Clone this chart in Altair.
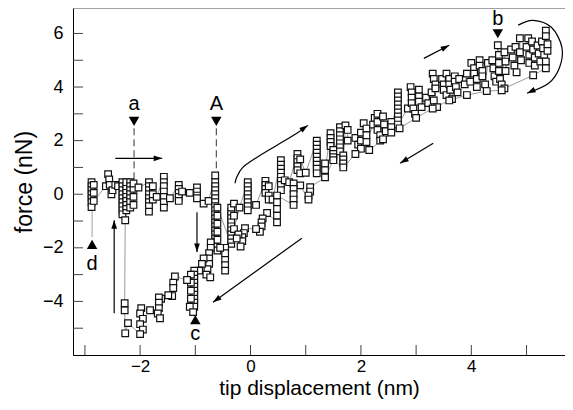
import math
import altair as alt
import pandas as pd

# ---------------- data ----------------
approach = [
    (-2.88, 0.45), (-2.88, 0.3), (-2.88, 0.15), (-2.88, 0.0), (-2.88, -0.15), (-2.88, -0.3), (-2.88, -0.48),
    (-2.84, 0.35), (-2.84, 0.05), (-2.84, -0.25),
    (-2.62, 0.3), (-2.58, 0.75), (-2.56, 0.55), (-2.55, 0.35), (-2.52, 0.0), (-2.5, 0.15), (-2.45, 0.35), (-2.4, 0.3),
    (-2.32, 0.45), (-2.32, 0.3), (-2.32, 0.15), (-2.32, 0.0), (-2.32, -0.15), (-2.32, -0.3), (-2.32, -0.45), (-2.32, -0.6), (-2.32, -0.75),
    (-2.25, -0.6), (-2.25, -0.45), (-2.25, -0.3), (-2.25, -0.15), (-2.25, 0.0), (-2.25, 0.15), (-2.25, 0.3), (-2.25, 0.45),
    (-2.18, 0.45), (-2.18, 0.3), (-2.18, 0.15), (-2.18, 0.0), (-2.18, -0.15), (-2.18, -0.3), (-2.18, -0.5),
    (-2.12, -0.4), (-2.12, -0.1), (-2.12, 0.2), (-2.12, 0.4),
    (-2.03, 0.25),
    (-1.84, 0.45), (-1.84, 0.3), (-1.84, 0.15), (-1.84, 0.0), (-1.84, -0.15), (-1.84, -0.3), (-1.84, -0.45), (-1.84, -0.65),
    (-1.77, -0.2), (-1.77, 0.0), (-1.77, 0.3),
    (-1.7, -0.1),
    (-1.57, 0.65), (-1.57, 0.45), (-1.57, 0.3), (-1.57, 0.1), (-1.57, -0.1), (-1.57, -0.3), (-1.57, -0.5),
    (-1.46, -0.15),
    (-1.3, 0.35), (-1.3, 0.2), (-1.3, 0.05), (-1.3, -0.1), (-1.3, -0.25), (-1.24, 0.1),
    (-1.1, 0.05),
    (-0.97, 0.25), (-0.97, 0.1), (-0.97, -0.05), (-0.97, -0.15),
    (-0.85, -0.35), (-0.76, -0.25),
    (-0.64, 0.7), (-0.64, 0.45), (-0.64, 0.3), (-0.64, 0.15), (-0.64, 0.0), (-0.64, -0.15), (-0.64, -0.3),
    (-0.64, -0.45), (-0.64, -0.6), (-0.64, -0.75), (-0.64, -0.9), (-0.64, -1.05), (-0.64, -1.2), (-0.64, -1.35),
    (-0.64, -1.5), (-0.64, -1.65), (-0.64, -1.8), (-0.64, -1.95),
    (-0.6, -2.1), (-0.6, -1.7), (-0.6, -1.4), (-0.6, -1.1), (-0.6, -0.8), (-0.6, -0.5),
]

loading = [
    (-0.35, -1.85), (-0.35, -1.7), (-0.35, -1.55), (-0.35, -1.4), (-0.35, -1.25), (-0.35, -1.1), (-0.35, -0.95),
    (-0.35, -0.8), (-0.35, -0.65), (-0.35, -0.5), (-0.3, -0.35), (-0.3, -0.8), (-0.3, -1.3),
    (-0.2, -0.5),
    (-0.05, 0.45), (-0.05, 0.3), (-0.05, 0.15), (-0.05, 0.0), (-0.05, -0.15), (-0.05, -0.3), (-0.05, -0.45), (-0.05, -0.6),
    (0.1, -0.4),
    (0.27, 0.5), (0.27, 0.35), (0.27, 0.2), (0.27, 0.05), (0.33, 0.3), (0.33, -0.05), (0.33, -0.2),
    (0.4, -0.2),
    (0.55, 1.27), (0.55, 1.1), (0.55, 0.95), (0.55, 0.8), (0.55, 0.65), (0.55, 0.5), (0.55, 0.35), (0.55, 0.15),
    (0.62, 0.52), (0.7, 0.45),
    (0.85, 1.5), (0.85, 1.35), (0.85, 1.2), (0.85, 1.05), (0.85, 0.9), (0.9, 0.78), (0.9, 1.3),
    (1.0, 0.8),
    (1.2, 2.0), (1.2, 1.85), (1.2, 1.7), (1.2, 1.55), (1.2, 1.4), (1.2, 1.25), (1.2, 1.1), (1.2, 0.95), (1.2, 0.78),
    (1.35, 1.15), (1.35, 0.9),
    (1.45, 2.28), (1.45, 2.1), (1.45, 1.95), (1.45, 1.8), (1.5, 1.65), (1.5, 1.5), (1.5, 1.38),
    (1.62, 2.5), (1.62, 2.35), (1.62, 2.2), (1.62, 2.05), (1.62, 1.9), (1.62, 1.75), (1.62, 1.6),
    (1.68, 1.45), (1.68, 1.3), (1.68, 1.15),
    (1.72, 2.57), (1.76, 2.4), (1.76, 2.0),
    (1.9, 2.1), (1.95, 1.85), (2.0, 2.3), (2.0, 2.0), (2.0, 1.7), (2.05, 2.65), (2.1, 2.45), (2.1, 2.2), (2.1, 1.95),
    (2.22, 2.6), (2.25, 2.85), (2.3, 3.0), (2.3, 2.7), (2.3, 2.4), (2.35, 2.2), (2.35, 2.0), (2.4, 2.9), (2.42, 2.6), (2.45, 2.35),
    (2.55, 2.7), (2.55, 2.5), (2.55, 2.3),
    (2.67, 3.8), (2.67, 3.65), (2.67, 3.5), (2.67, 3.35), (2.67, 3.2), (2.67, 3.05), (2.67, 2.9), (2.67, 2.75), (2.67, 2.6),
    (2.85, 3.2), (2.9, 4.0), (2.92, 3.8), (2.92, 3.6), (2.92, 3.4), (2.95, 3.2), (2.98, 3.0),
    (3.05, 3.9), (3.05, 3.65), (3.05, 3.45), (3.1, 3.25),
    (3.18, 3.6), (3.22, 3.4), (3.28, 3.8), (3.32, 3.5), (3.38, 3.25), (3.3, 4.5), (3.32, 4.3), (3.35, 4.1), (3.35, 3.95),
    (3.47, 4.3), (3.5, 4.1), (3.5, 3.9), (3.55, 4.5), (3.55, 3.7), (3.6, 4.3), (3.6, 4.1), (3.62, 3.9), (3.65, 3.55),
    (3.7, 4.4), (3.7, 4.2), (3.72, 4.0), (3.75, 3.8), (3.78, 4.3),
    (3.88, 4.1), (3.92, 4.5), (3.98, 4.2), (4.0, 4.9), (4.05, 4.7), (4.05, 4.5), (4.1, 4.3), (4.1, 4.0),
    (4.15, 5.0), (4.15, 4.8), (4.2, 4.6), (4.2, 4.4), (4.25, 4.1), (4.3, 4.9),
    (4.38, 5.0), (4.4, 4.7), (4.42, 4.4), (4.45, 4.2), (4.48, 5.56), (4.5, 5.2), (4.5, 4.9), (4.5, 4.6), (4.52, 4.3),
    (4.55, 4.1), (4.6, 5.3), (4.62, 4.95), (4.62, 4.6),
    (4.72, 5.4), (4.75, 5.1), (4.78, 4.8), (4.8, 5.5), (4.82, 4.55), (4.88, 5.82), (4.88, 5.3), (4.9, 5.0),
    (5.03, 5.82), (5.0, 5.5), (5.05, 5.2), (5.05, 4.9), (5.1, 5.7), (5.12, 5.4), (5.15, 5.1), (5.15, 4.8),
    (5.2, 5.55), (5.22, 5.25), (5.25, 4.95), (5.28, 5.7), (5.3, 5.45), (5.32, 5.2), (5.35, 6.1), (5.35, 5.9),
    (5.38, 5.6), (5.38, 5.35), (5.35, 4.95), (5.35, 4.7),
]

unloading = [
    (5.12, 4.44), (4.6, 3.95), (4.55, 3.88), (4.28, 3.85), (3.92, 3.7), (3.6, 3.5), (3.3, 3.2), (3.0, 2.85),
    (2.7, 2.46), (2.4, 2.05), (2.15, 1.65), (1.9, 1.5), (1.68, 1.0), (1.5, 1.27), (1.35, 0.63),
    (1.08, 0.26), (1.08, 0.1), (1.05, -0.05), (1.05, -0.2), (0.9, 0.33),
    (0.78, 0.4), (0.78, 0.2), (0.78, 0.0), (0.78, -0.2), (0.78, -0.4),
    (0.48, -0.05), (0.48, -0.3), (0.48, -0.55), (0.48, -0.8), (0.48, -1.05),
    (0.3, -0.7), (0.22, -0.9), (0.2, -1.05), (0.2, -1.2), (0.17, -1.4), (0.1, -1.3),
    (-0.1, -1.27), (-0.12, -1.45), (-0.15, -1.6), (-0.15, -1.75), (-0.18, -1.95), (-0.22, -1.5), (-0.25, -1.65),
    (-0.46, -2.0), (-0.46, -2.2), (-0.46, -2.45), (-0.46, -2.65), (-0.46, -2.85),
    (-0.55, -2.0),
    (-0.72, -1.8), (-0.72, -2.0), (-0.75, -2.2), (-0.75, -2.4), (-0.75, -2.6), (-0.78, -2.8), (-0.8, -3.0),
    (-0.73, -3.1), (-0.85, -2.4), (-0.88, -2.6),
    (-0.93, -2.85),
    (-1.02, -2.85), (-1.02, -3.0), (-1.02, -3.15), (-1.02, -3.3), (-1.02, -3.45), (-1.02, -3.6), (-1.02, -3.75),
    (-1.02, -3.9), (-1.02, -4.05), (-1.02, -4.2), (-1.08, -3.0), (-1.08, -3.3), (-1.08, -3.6), (-1.08, -3.9),
    (-1.1, -4.2), (-1.04, -4.4),
    (-1.15, -3.2), (-1.37, -3.07), (-1.4, -3.3), (-1.4, -3.5), (-1.42, -3.8), (-1.49, -3.77), (-1.62, -3.9),
    (-1.66, -3.85), (-1.66, -4.05), (-1.66, -4.25), (-1.68, -4.45), (-1.64, -4.63), (-1.82, -4.33),
    (-1.98, -4.25), (-2.0, -4.45), (-1.95, -4.65), (-2.0, -4.85), (-1.95, -5.05), (-2.0, -5.22),
    (-2.22, -4.81), (-2.27, -5.19), (-2.28, -4.33), (-2.28, -4.07), (-2.27, -0.97),
]

x_ticks = [-3, -2, -1, 0, 1, 2, 3, 4, 5]
y_ticks = [-5, -4, -3, -2, -1, 0, 1, 2, 3, 4, 5, 6]
x_labels = [-2, 0, 2, 4]
y_labels = [-4, -2, 0, 2, 4, 6]

label_text = ["a", "A", "b", "c", "d"]
label_x = [-2.11, -0.62, 4.48, -1.0, -2.87]
label_y = [3.13, 3.13, 6.31, -5.45, -2.84]
marker_shape = ["triangle-down", "triangle-down", "triangle-down", "triangle-up", "triangle-up"]
marker_y = [2.72, 2.72, 5.99, -4.68, -1.87]

dash_x = [-2.11, -0.62]
dash_top = [2.46, 2.46]
dash_bottom = [0.34, 0.8]

arrow_right = [(-2.45, 1.34), (-1.6, 1.34)]
arrow_down = [(-0.97, -0.67), (-0.97, -2.16)]
arrow_up = [(-2.47, -4.44), (-2.47, -0.97)]
arrow_long = [(0.93, -1.64), (-0.68, -4.03)]
arrow_mid = [(3.31, 1.9), (2.71, 1.16)]
arrow_top = [(3.14, 5.07), (3.6, 5.56)]
arrow_curve = [(-0.28, 0.41), (-0.25, 0.63), (-0.14, 1.0), (0.12, 1.38), (0.48, 1.83), (0.84, 2.28), (1.04, 2.57)]
arrow_turn = [(4.85, 6.31), (5.12, 6.49), (5.45, 6.23), (5.64, 5.49), (5.6, 4.74), (5.4, 4.14), (5.01, 3.77)]
arrows = [arrow_right, arrow_down, arrow_up, arrow_long, arrow_mid, arrow_top, arrow_curve, arrow_turn]

# ---------------- layout ----------------
FONT = "Liberation Sans"
W, H = 492, 347
X_DOMAIN = [-3.216, 5.697]
Y_DOMAIN = [-6.0, 6.95]
SX = W / (X_DOMAIN[1] - X_DOMAIN[0])
SY = H / (Y_DOMAIN[1] - Y_DOMAIN[0])

xs = alt.Scale(domain=X_DOMAIN, nice=False, zero=False)
ys = alt.Scale(domain=Y_DOMAIN, nice=False, zero=False)

x_axis = alt.Axis(values=x_labels, ticks=False, grid=False, domainColor="#000", domainWidth=1,
                  labelFont=FONT, labelFontSize=17, labelColor="#000", labelPadding=3,
                  title="tip displacement (nm)", titleFont=FONT, titleFontSize=21,
                  titleFontWeight="normal", titleColor="#000", titlePadding=3)
y_axis = alt.Axis(values=y_labels, ticks=False, grid=False, domainColor="#000", domainWidth=1,
                  labelFont=FONT, labelFontSize=18, labelColor="#000", labelPadding=10,
                  title="force (nN)", titleFont=FONT, titleFontSize=23,
                  titleFontWeight="normal", titleColor="#000", titlePadding=6)


def X(f):
    return alt.X(f, type="quantitative", scale=xs, axis=x_axis)


def Y(f):
    return alt.Y(f, type="quantitative", scale=ys, axis=y_axis)


rows = []
for seg in (approach, loading, unloading):
    for (x, y) in seg:
        rows.append({"x": x, "y": y, "i": len(rows)})
pts = pd.DataFrame(rows)

arow = []
heads = []
for g, a in enumerate(arrows):
    for k, (x, y) in enumerate(a):
        arow.append({"g": g, "k": k, "x": x, "y": y})
    (x1, y1), (x2, y2) = a[-2], a[-1]
    ang = math.degrees(math.atan2((x2 - x1) * SX, (y2 - y1) * SY)) % 360
    heads.append({"x": x2, "y": y2, "ang": ang})
arr_df = pd.DataFrame(arow)
head_df = pd.DataFrame(heads)

path_line = alt.Chart(pts).mark_line(color="#808080", strokeWidth=0.8).encode(
    x=X("x"), y=Y("y"), order="i:Q")

squares = alt.Chart(pts).mark_square(size=44, fill="white", stroke="#111", strokeWidth=1.2,
                                     opacity=1, fillOpacity=1).encode(x=X("x"), y=Y("y"))

xtick = alt.Chart(pd.DataFrame({"t": x_ticks})).mark_rule(color="#444", strokeWidth=1).encode(
    x=X("t"), y=alt.value(H), y2=alt.value(H - 10))
ytick = alt.Chart(pd.DataFrame({"t": y_ticks})).mark_rule(color="#444", strokeWidth=1).encode(
    y=Y("t"), x=alt.value(0), x2=alt.value(10))
top_border = alt.Chart(pd.DataFrame({"t": [0]})).mark_rule(color="#666", strokeWidth=1).encode(
    x=alt.value(0), x2=alt.value(W), y=alt.value(0))

ann = pd.DataFrame({"t": label_text, "x": label_x, "y": label_y, "shape": marker_shape, "my": marker_y})
texts = alt.Chart(ann).mark_text(font=FONT, fontSize=20, baseline="alphabetic", align="center",
                                 color="#000").encode(x=X("x"), y=Y("y"), text="t:N")
markers = alt.Chart(ann).mark_point(filled=True, color="#000", size=110, opacity=1).encode(
    x=X("x"), y=Y("my"), shape=alt.Shape("shape:N", scale=None))

dash_df = pd.DataFrame({"x": dash_x, "y1": dash_top, "y2": dash_bottom})
dashes = alt.Chart(dash_df).mark_rule(color="#333", strokeWidth=1, strokeDash=[7, 4]).encode(
    x=X("x"), y=Y("y1"), y2="y2:Q")

d_line = alt.Chart(pd.DataFrame({"x": [-2.87], "y1": [-0.5], "y2": [-1.6]})).mark_rule(
    color="#888", strokeWidth=0.8).encode(x=X("x"), y=Y("y1"), y2="y2:Q")

arrow_lines = alt.Chart(arr_df).mark_line(color="#000", strokeWidth=1.2, interpolate="cardinal").encode(
    x=X("x"), y=Y("y"), detail="g:N", order="k:Q")
arrow_heads = alt.Chart(head_df).mark_point(shape="M0,0L-0.6,1.8L0.6,1.8Z", filled=True, color="#000",
                                           size=90, opacity=1).encode(
    x=X("x"), y=Y("y"), angle=alt.Angle("ang:Q", scale=None))

chart = alt.layer(
    path_line, d_line, dashes, squares, xtick, ytick, top_border, arrow_lines, arrow_heads, markers, texts
).properties(
    width=W, height=H,
    padding={"left": 65, "top": 0, "right": 0, "bottom": 47},
    autosize=alt.AutoSizeParams(type="none"),
).configure_view(strokeWidth=0).configure(background="white")

chart.save("out.html", embed_options={"renderer": "svg", "actions": False})
